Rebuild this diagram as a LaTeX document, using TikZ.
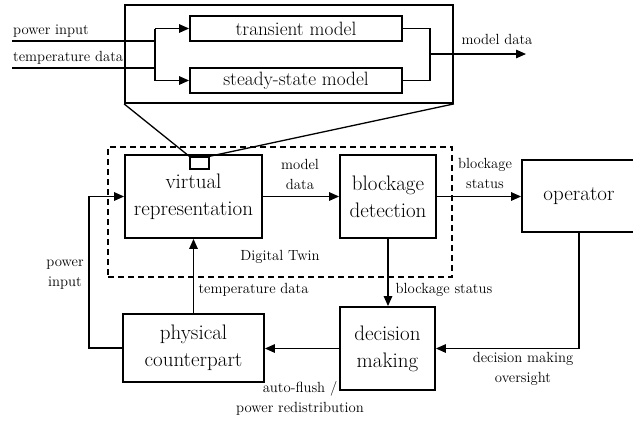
\documentclass[tikz,border=0pt]{standalone}
\usetikzlibrary{arrows.meta}

\tikzset{
  blk/.style={draw, line width=1.8pt, inner sep=0pt, align=center,
              font=\rmfamily\fontsize{21}{27}\selectfont},
  modelbox/.style={draw, line width=1.8pt, inner sep=0pt,
              font=\rmfamily\fontsize{19.3}{24}\selectfont},
  lbl/.style={inner sep=0pt, align=center, font=\rmfamily\fontsize{14.7}{20}\selectfont},
  wire/.style={line width=1.3pt},
  arr/.style={wire, -{Triangle[length=10pt,width=8.5pt]}},
}

\begin{document}
\begin{tikzpicture}[x=1pt,y=-1pt]
\useasboundingbox (0,0) rectangle (633,421);
\clip (0,0) rectangle (633,421);

% ---- detail view of the virtual representation ----
\node[draw, line width=1.8pt, minimum width=328pt, minimum height=98pt, inner sep=0pt]
  (zoom) at (289,54) {};
\node[modelbox, minimum width=212pt, minimum height=25pt] (tm) at (296,28.5) {transient model};
\node[modelbox, minimum width=212pt, minimum height=25pt] (ss) at (296,80.5) {steady-state model};

\coordinate (pin) at (12,41);
\coordinate (tin) at (12,68);
\coordinate (split) at (155,41);
\coordinate (join) at (430,54);
\coordinate (mout) at (526,54);

\draw[wire] (pin) -- (split);
\draw[wire] (tin) -- (tin -| split);
\draw[wire] (split |- tm.west) -- (split |- ss.west);
\draw[arr] (split |- tm.west) -- (tm.west);
\draw[arr] (split |- ss.west) -- (ss.west);
\draw[wire] (tm.east) -| (join) |- (ss.east);
\draw[arr] (join) -- (mout);

\node[lbl, anchor=west] (lpin) at (13,31) {power input};
\node[lbl, anchor=west] (ltin) at (13,58) {temperature data};
\node[lbl] (lmout) at (497,39) {model data};

% ---- digital twin ----
\node[draw, line width=1.8pt, dash pattern=on 6pt off 4pt,
      minimum width=344pt, minimum height=130pt, inner sep=0pt] (dt) at (280,212) {};
\node[lbl] (ldt) at (280,257) {Digital Twin};

\node[blk, minimum width=137pt, minimum height=83pt] (vr) at (193.5,196.5)
  {virtual\\representation};
\node[draw, line width=1.5pt, minimum width=19pt, minimum height=12pt, inner sep=0pt]
  (sr) at (199.5,163) {};
\node[blk, minimum width=96pt, minimum height=83pt] (bd) at (388,196.5)
  {blockage\\detection};

\draw[line width=1.3pt] (zoom.south west) -- (sr.north west);
\draw[line width=1.3pt] (zoom.south east) -- (sr.north east);

% ---- operator, decision making, physical counterpart ----
\node[blk, minimum width=114pt, minimum height=72pt] (op) at (579,196) {operator};
\node[blk, minimum width=95pt, minimum height=83pt] (dm) at (387.5,348.5)
  {decision\\making};
\node[blk, minimum width=141pt, minimum height=68pt] (pc) at (193.5,348)
  {physical\\counterpart};

% ---- connectors ----
\draw[arr] (vr.east) -- (bd.west);
\draw[arr] (bd.east) -- (bd.east -| op.west);
\draw[arr] (bd.south) -- (bd.south |- dm.north);
\draw[arr] (op.south) |- (dm.east);
\draw[arr] (dm.west) -- (dm.west -| pc.east);
\draw[arr] (pc.north) -- (pc.north |- vr.south);
\draw[arr] (pc.west) -- ++(-33,0) |- (vr.west);

% ---- connector labels ----
\node[lbl] (lmd) at (300,174) {model\\data};
\node[lbl] (lbs1) at (485,173) {blockage\\status};
\node[lbl] (lbs2) at (444,290) {blockage status};
\node[lbl] (ltd) at (253.5,290) {temperature data};
\node[lbl] (lpi) at (65,275) {power\\input};
\node[lbl] (ldm) at (523,369) {decision making\\oversight};
\node[lbl] (laf) at (300,398) {auto-flush /\\power redistribution};
\end{tikzpicture}
\end{document}
